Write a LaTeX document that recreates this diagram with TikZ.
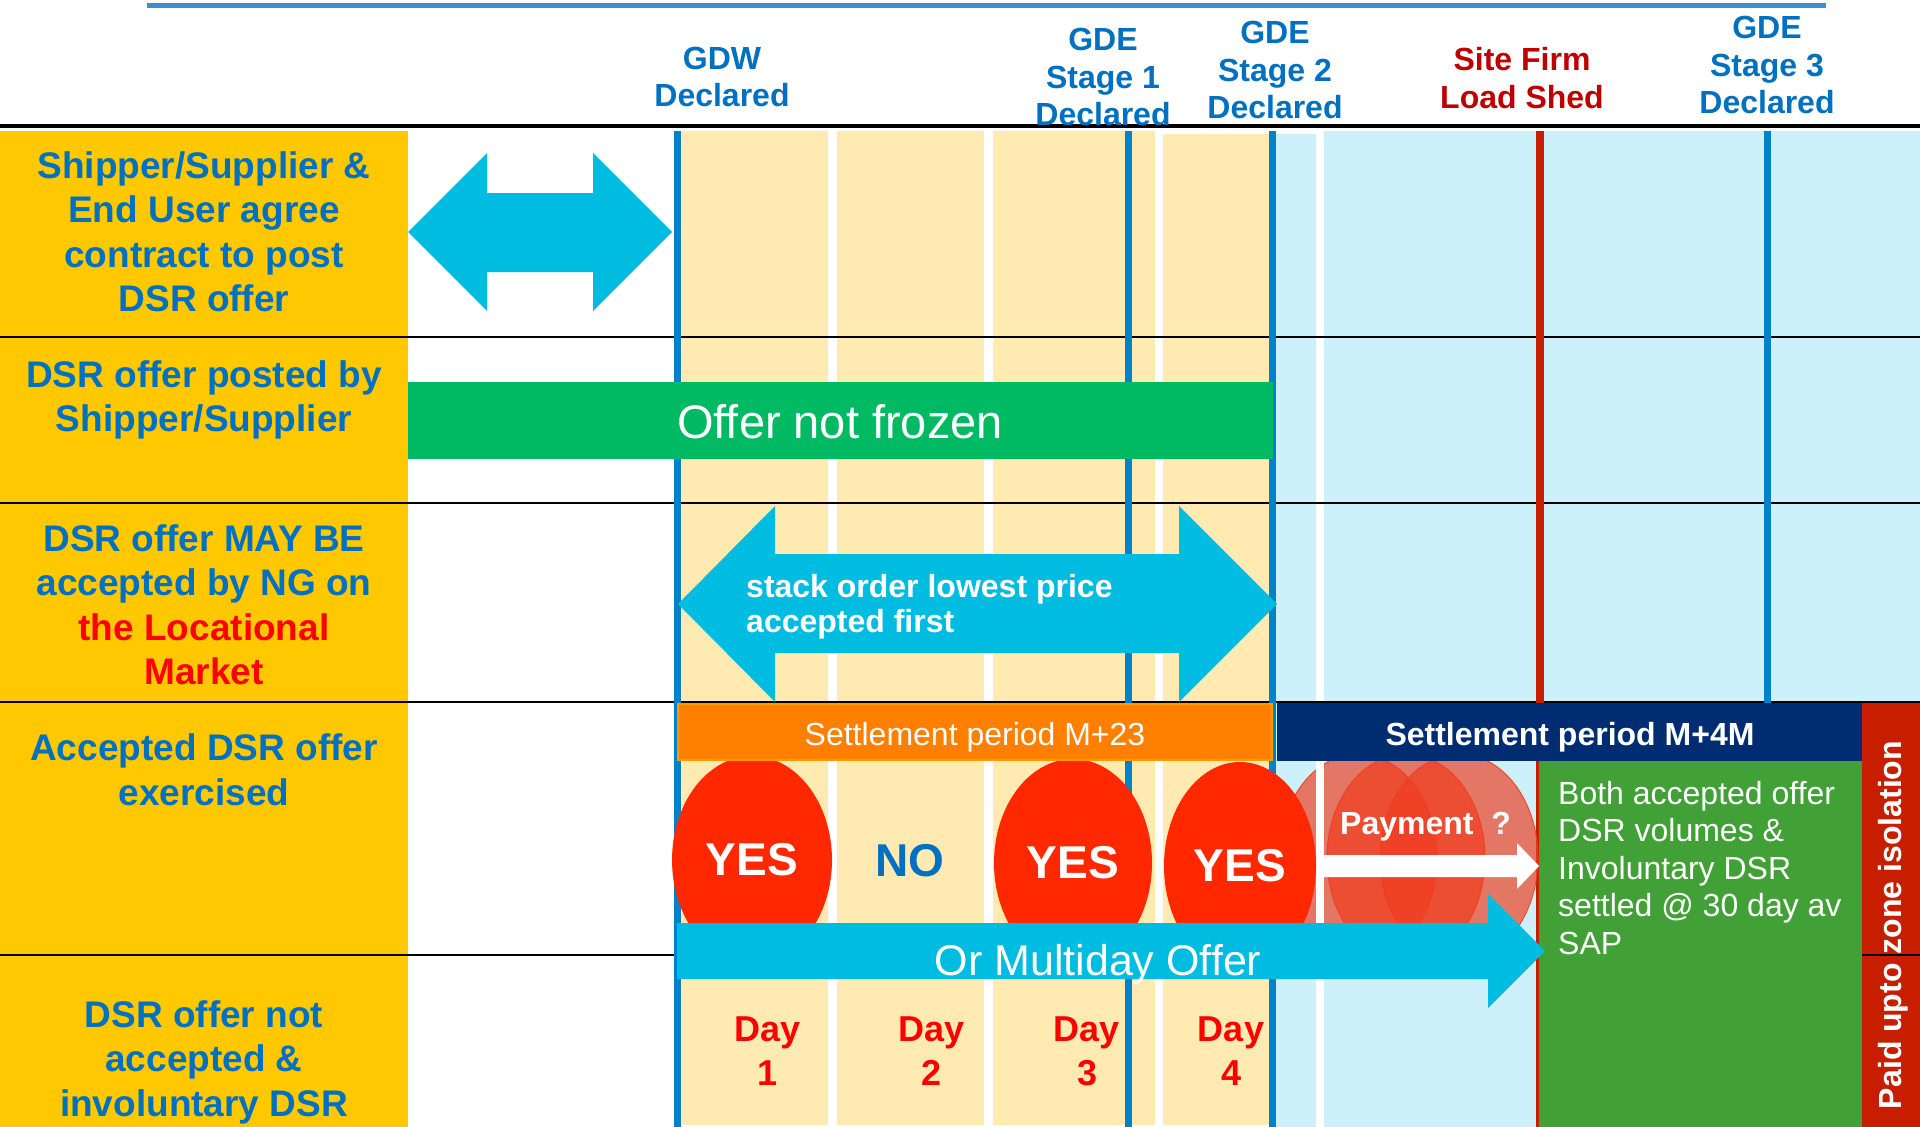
\documentclass[tikz,border=0pt]{standalone}
\usepackage{fontspec}
\setmainfont{Liberation Sans}
\usetikzlibrary{shapes.geometric}

\definecolor{labelgold}{HTML}{FFC800}
\definecolor{dayyellow}{HTML}{FFEBB2}
\definecolor{latecyan}{HTML}{CDF1FB}
\definecolor{lineblue}{HTML}{0082C8}
\definecolor{textblue}{HTML}{0070C0}
\definecolor{topblue}{HTML}{3C8DD2}
\definecolor{arrowcyan}{HTML}{00BCE1}
\definecolor{offergreen}{HTML}{00B963}
\definecolor{settleorange}{HTML}{FF7F00}
\definecolor{settlenavy}{HTML}{002D72}
\definecolor{shedred}{HTML}{C81E00}
\definecolor{shedtext}{HTML}{C00000}
\definecolor{yesred}{HTML}{FF2800}
\definecolor{payred}{HTML}{F03C1E}
\definecolor{boxgreen}{HTML}{41A136}
\definecolor{dayred}{HTML}{FF0000}

\begin{document}
\begin{tikzpicture}[x=1pt, y=-1pt,
  every node/.style={inner sep=0pt, align=center},
  rowlabel/.style={text=textblue, font=\fontsize{37}{44.5}\selectfont\bfseries},
  headlabel/.style={text=textblue, font=\fontsize{32}{37.5}\selectfont\bfseries},
  daylabel/.style={text=dayred, font=\fontsize{36}{44}\selectfont\bfseries},
  yesoval/.style={ellipse, fill=yesred, text=white, minimum width=160pt, minimum height=208pt, font=\fontsize{46}{50}\selectfont\bfseries},
  paybubble/.style={ellipse, fill=payred, fill opacity=0.68, draw=payred, draw opacity=0.85, line width=1pt, minimum width=158pt, minimum height=208pt},
  bartext/.style={text=white, font=\fontsize{32}{38}\selectfont}]

\def\coltop{131}
\def\colbot{1127}

\useasboundingbox[fill=white] (0,0) rectangle (1920,1127);

  % Backgrounds
  \fill[labelgold] (0,\coltop) rectangle (408,\colbot);
  \foreach \a/\b in {682/828, 837/984, 993/1155, 1163/1272}
    \fill[dayyellow] (\a,\coltop) rectangle (\b,1125);
  \fill[latecyan] (1272,\coltop) rectangle (1920,\colbot);
  \draw[white, line width=8pt] (1159,\colbot) -- (1159,130) -- (1320,130) -- (1320,\colbot);
  \fill[shedred] (1862,703) rectangle (1920,\colbot);

  % Grid lines
  \draw[topblue, line width=5pt] (147,5) -- (1826,5);
  \draw[line width=3.5pt] (0,126) -- (1920,126);
  \foreach \y in {337,503,702,955}
    \draw[line width=2.5pt] (0,\y) -- (1920,\y);
  \draw[lineblue, line width=7pt] (677,\coltop) -- (677,\colbot);
  \draw[lineblue, line width=7pt] (1128,\coltop) -- (1128,\colbot);
  \draw[lineblue, line width=7pt] (1272,\coltop) -- (1272,\colbot);
  \draw[lineblue, line width=7pt] (1767,\coltop) -- (1767,703);
  \draw[shedred, line width=8pt] (1540,\coltop) -- (1540,\colbot);

  % Header
  \node (gdw) [headlabel] at (722,77) {GDW\\Declared};
  \node (stage1) [headlabel] at (1103,77) {GDE\\Stage 1\\Declared};
  \node (stage2) [headlabel] at (1275,70) {GDE\\Stage 2\\Declared};
  \node (shed) [headlabel, text=shedtext] at (1522,78) {Site Firm\\Load Shed};
  \node (stage3) [headlabel] at (1767,65) {GDE\\Stage 3\\Declared};

  % Row labels
  \node (contract) [rowlabel] at (204,232) {Shipper/Supplier \&\\End User agree\\contract to post\\DSR offer};
  \node (posted) [rowlabel] at (204,400) {DSR offer posted by\\Shipper/Supplier};
  \node (maybe) [rowlabel] at (204,605) {DSR offer MAY BE\\accepted by NG on\\\textcolor{dayred}{the Locational}\\\textcolor{dayred}{Market}};
  \node (exercised) [rowlabel] at (204,770) {Accepted DSR offer\\exercised};
  \node (involuntary) [rowlabel] at (204,1062) {DSR offer not\\accepted \&\\involuntary DSR};

  % First rows
  \fill[arrowcyan] (408,232) -- (487,153) -- (487,193) -- (593,193) -- (593,153) -- (672,232)
    -- (593,311) -- (593,272) -- (487,272) -- (487,311) -- cycle;
  \fill[offergreen] (408,382) rectangle (1273,459);
  \node (frozen) [bartext, font=\fontsize{47}{50}\selectfont] at (840,422) {Offer not frozen};
  \fill[arrowcyan] (678,604) -- (775,506) -- (775,554) -- (1179,554) -- (1179,506) -- (1277,604)
    -- (1179,702) -- (1179,653) -- (775,653) -- (775,702) -- cycle;
  \node (stack) [anchor=west, align=left, text=white, font=\fontsize{32}{35}\selectfont\bfseries] at (746,607) {stack order lowest price\\accepted first};

  % Exercised days
  \foreach \x in {1358,1406,1459}
    \node (pay\x) [paybubble] at (\x,858) {};
  \draw[white, line width=8pt] (1320,761) -- (1320,923);
  \node (yes1) [yesoval] at (752,860) {YES};
  \node (no2) [text=textblue, font=\fontsize{46}{50}\selectfont\bfseries] at (910,861) {NO};
  \node (yes3) [yesoval, minimum width=158pt] at (1073,863) {YES};
  \node (yes4) [yesoval, minimum width=152pt] at (1240,866) {YES};

  % Settlement
  \fill[settleorange, draw=orange!80!yellow, line width=1.5pt] (678,704) rectangle (1272,760);
  \node (m23) [bartext] at (975,737) {Settlement period M+23};
  \fill[settlenavy] (1277,703) rectangle (1862,761);
  \node (m4m) [bartext, font=\fontsize{32}{38}\selectfont\bfseries] at (1570,737) {Settlement period M+4M};
  \fill[boxgreen] (1539,761) rectangle (1862,\colbot);
  \node (settled) [anchor=north west, align=left, text=white, font=\fontsize{32}{37.5}\selectfont] at (1558,781) {Both accepted offer\\DSR volumes \&\\Involuntary DSR\\settled @ 30 day av\\SAP};
  \node (isolation) [rotate=90, text=white, font=\fontsize{32}{38}\selectfont\bfseries] at (1893,925) {Paid upto zone isolation};

  % Arrows
  \fill[white] (1324,855) -- (1517,855) -- (1517,843) -- (1539,866) -- (1517,889) -- (1517,877) -- (1324,877) -- cycle;
  \node (payment) [anchor=west, text=white, font=\fontsize{32}{38}\selectfont\bfseries] at (1340,827) {Payment\ \ ?};
  \fill[arrowcyan] (677,923) -- (1488,923) -- (1488,894) -- (1545,951) -- (1488,1008) -- (1488,979) -- (677,979) -- cycle;
  \node (multiday) [bartext, font=\fontsize{43}{46}\selectfont] at (1098,964) {Or Multiday Offer};

  % Days
  \foreach \n/\x in {1/768, 2/932, 3/1087, 4/1231}
    \node (day\n) [daylabel] at (\x,1051) {Day\\\n};

\end{tikzpicture}
\end{document}
